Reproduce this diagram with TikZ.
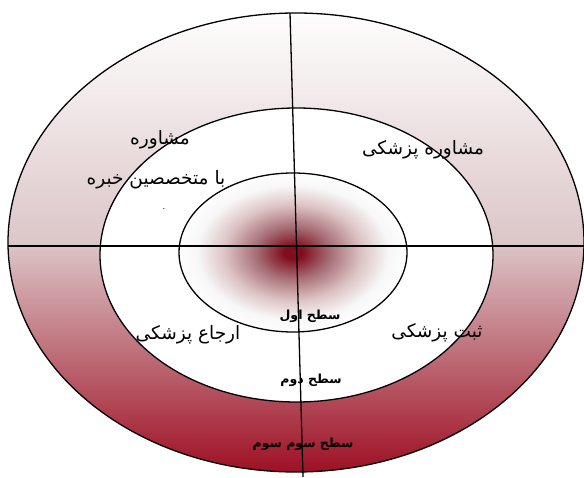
\documentclass[tikz,border=0pt]{standalone}
\usepackage{fontspec}
\newfontfamily\arabicfont[Script=Arabic]{DejaVu Sans}
\TeXXeTstate=1
\definecolor{deepred}{HTML}{9E1024}
\definecolor{midpink}{HTML}{DCC6C8}
\pgfdeclareverticalshading{outergrad}{100bp}{color(0bp)=(deepred); color(25bp)=(deepred); color(50bp)=(midpink); color(75bp)=(white!97!midpink); color(100bp)=(white)}
\pgfdeclareradialshading{innergrad}{\pgfpoint{0bp}{0bp}}{color(0bp)=(deepred!85!black); color(2bp)=(deepred!82!black); color(8bp)=(deepred!50!white!80!black); color(15bp)=(white!85!black!90!red); color(21bp)=(white!97!black); color(26bp)=(white); color(50bp)=(white)}
\tikzset{
  ring/.style={draw=black, line width=1.3pt},
  lbl/.style={font=\arabicfont\fontsize{18.5}{22}\selectfont, inner sep=0pt},
  lvl/.style={font=\arabicfont\bfseries\fontsize{12.5}{14}\selectfont, inner sep=0pt},
  axis/.style={draw=black, line width=1.3pt}
}
\begin{document}
\begin{tikzpicture}[x=1pt,y=1pt]
\useasboundingbox (0,0) rectangle (584,477);
% outer ellipse
\path[shading=outergrad] (296,234.5) ellipse [x radius=288, y radius=229.5];
\draw[ring] (296,234.5) ellipse [x radius=288, y radius=229.5];
% middle ellipse
\fill[white] (296.5,222) ellipse [x radius=196.5, y radius=147];
\draw[ring] (296.5,222) ellipse [x radius=196.5, y radius=147];
% inner ellipse
\path[shading=innergrad] (293,224.5) ellipse [x radius=114, y radius=79.5];
\draw[ring] (293,224.5) ellipse [x radius=114, y radius=79.5];
% axes
\coordinate (hl) at (8,231);
\coordinate (hr) at (584,231);
\coordinate (vt) at (290,464);
\coordinate (vb) at (303,0);
\draw[axis] (hl) -- (hr);
\draw[axis] (vt) -- (vb);
% labels
\node[lbl] (t1) at (160,337) {\beginR مشاوره\endR};
\node[lbl] (t2) at (156,297) {\beginR با متخصصین خبره\endR};
\node[font=\arabicfont\fontsize{8}{9}\selectfont, inner sep=0pt] (t3) at (164,268) {.};
\node[lbl] (t4) at (423,327) {\beginR مشاوره پزشکی\endR};
\node[lbl] (t5) at (188,142) {\beginR ارجاع پزشکی\endR};
\node[lbl] (t6) at (437,144) {\beginR ثبت پزشکی\endR};
\node[lvl] (l1) at (310,161) {\beginR سطح اول\endR};
\node[lvl] (l2) at (311,97) {\beginR سطح دوم\endR};
\node[lvl] (l3) at (303,33) {\beginR سطح سوم سوم\endR};
\end{tikzpicture}
\end{document}
